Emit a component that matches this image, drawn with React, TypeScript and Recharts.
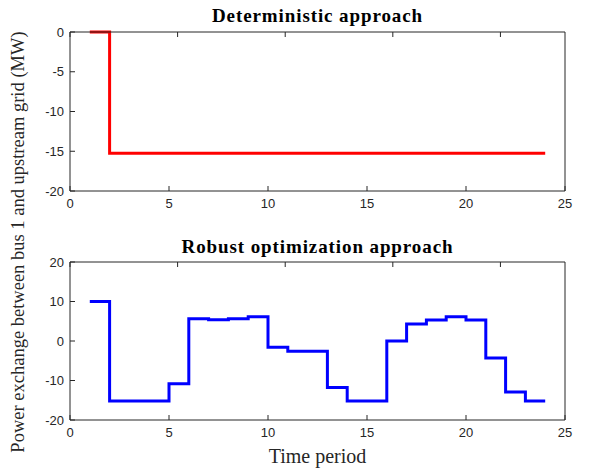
import React from "react";
import { Line, LineChart, XAxis, YAxis } from "recharts";

const periods = [
  1, 2, 3, 4, 5, 6, 7, 8, 9, 10, 11, 12, 13, 14, 15, 16, 17, 18, 19, 20, 21, 22, 23, 24,
];
const deterministic = [
  0, -15.25, -15.25, -15.25, -15.25, -15.25, -15.25, -15.25, -15.25, -15.25, -15.25, -15.25,
  -15.25, -15.25, -15.25, -15.25, -15.25, -15.25, -15.25, -15.25, -15.25, -15.25, -15.25, -15.25,
];
const robust = [
  10, -15.2, -15.2, -15.2, -10.8, 5.65, 5.4, 5.65, 6.15, -1.6, -2.6, -2.6, -11.8, -15.2, -15.2,
  0, 4.3, 5.3, 6.15, 5.3, -4.3, -12.9, -15.2, -15.2,
];
const xTicks = [0, 5, 10, 15, 20, 25];
const topYTicks = [-20, -15, -10, -5, 0];
const bottomYTicks = [-20, -10, 0, 10, 20];

const detData = periods.map((t, i) => ({ t, v: deterministic[i] }));
const robData = periods.map((t, i) => ({ t, v: robust[i] }));

const axisColor = "#262626";
const tickFont = { fill: axisColor, fontSize: 13, fontFamily: "Liberation Sans, Arial, sans-serif" };
const serif = "Liberation Serif, Times New Roman, serif";

function Panel({
  data,
  color,
  yDomain,
  yTicks,
  height,
  marginBottom,
}: {
  data: { t: number; v: number }[];
  color: string;
  yDomain: [number, number];
  yTicks: number[];
  height: number;
  marginBottom: number;
}) {
  const hidden = () => <g />;
  return (
    <LineChart
      width={605}
      height={height}
      data={data}
      margin={{ top: 31, right: 39, left: 0, bottom: marginBottom }}
    >
      <XAxis
        dataKey="t"
        type="number"
        domain={[0, 25]}
        ticks={xTicks}
        height={30}
        tickSize={-5}
        tickMargin={13}
        tick={tickFont}
        stroke={axisColor}
      />
      <XAxis
        xAxisId="top"
        orientation="top"
        type="number"
        domain={[0, 25]}
        ticks={xTicks}
        height={1}
        tickSize={-5}
        tick={hidden}
        stroke={axisColor}
      />
      <YAxis
        type="number"
        domain={yDomain}
        ticks={yTicks}
        width={70}
        tickSize={-5}
        tickMargin={11}
        tick={tickFont}
        stroke={axisColor}
      />
      <YAxis
        yAxisId="right"
        orientation="right"
        type="number"
        domain={yDomain}
        ticks={yTicks}
        width={1}
        tickSize={-5}
        tick={hidden}
        stroke={axisColor}
      />
      <Line
        type="stepAfter"
        dataKey="v"
        stroke={color}
        strokeWidth={3}
        dot={false}
        isAnimationActive={false}
      />
    </LineChart>
  );
}

const titleStyle: React.CSSProperties = {
  position: "absolute",
  left: 70,
  width: 495,
  textAlign: "center",
  fontFamily: serif,
  fontWeight: "bold",
  fontSize: 19,
  letterSpacing: 0.9,
  lineHeight: "22px",
  color: "#000",
  whiteSpace: "nowrap",
};

export default function App() {
  return (
    <div style={{ position: "absolute", left: 0, top: 0, width: 605, height: 468, background: "#fff" }}>
      <div style={{ position: "absolute", left: 0, top: 0 }}>
        <Panel data={detData} color="#ff0000" yDomain={[-20, 0]} yTicks={topYTicks} height={230} marginBottom={9} />
      </div>
      <div style={{ position: "absolute", left: 0, top: 230 }}>
        <Panel data={robData} color="#0000ff" yDomain={[-20, 20]} yTicks={bottomYTicks} height={238} marginBottom={18} />
      </div>
      <div style={{ ...titleStyle, top: 5 }}>Deterministic approach</div>
      <div style={{ ...titleStyle, top: 236 }}>Robust optimization approach</div>
      <div
        style={{
          position: "absolute",
          left: 70,
          width: 495,
          top: 444,
          textAlign: "center",
          fontFamily: serif,
          fontSize: 20,
          lineHeight: "24px",
          color: "#262626",
        }}
      >
        Time period
      </div>
      <div
        style={{
          position: "absolute",
          left: 18 - 250,
          top: 242 - 11,
          width: 500,
          height: 22,
          lineHeight: "22px",
          textAlign: "center",
          transform: "rotate(-90deg)",
          fontFamily: serif,
          fontSize: 18.5,
          color: "#262626",
          whiteSpace: "nowrap",
        }}
      >
        Power exchange between bus 1 and upstream grid (MW)
      </div>
    </div>
  );
}
